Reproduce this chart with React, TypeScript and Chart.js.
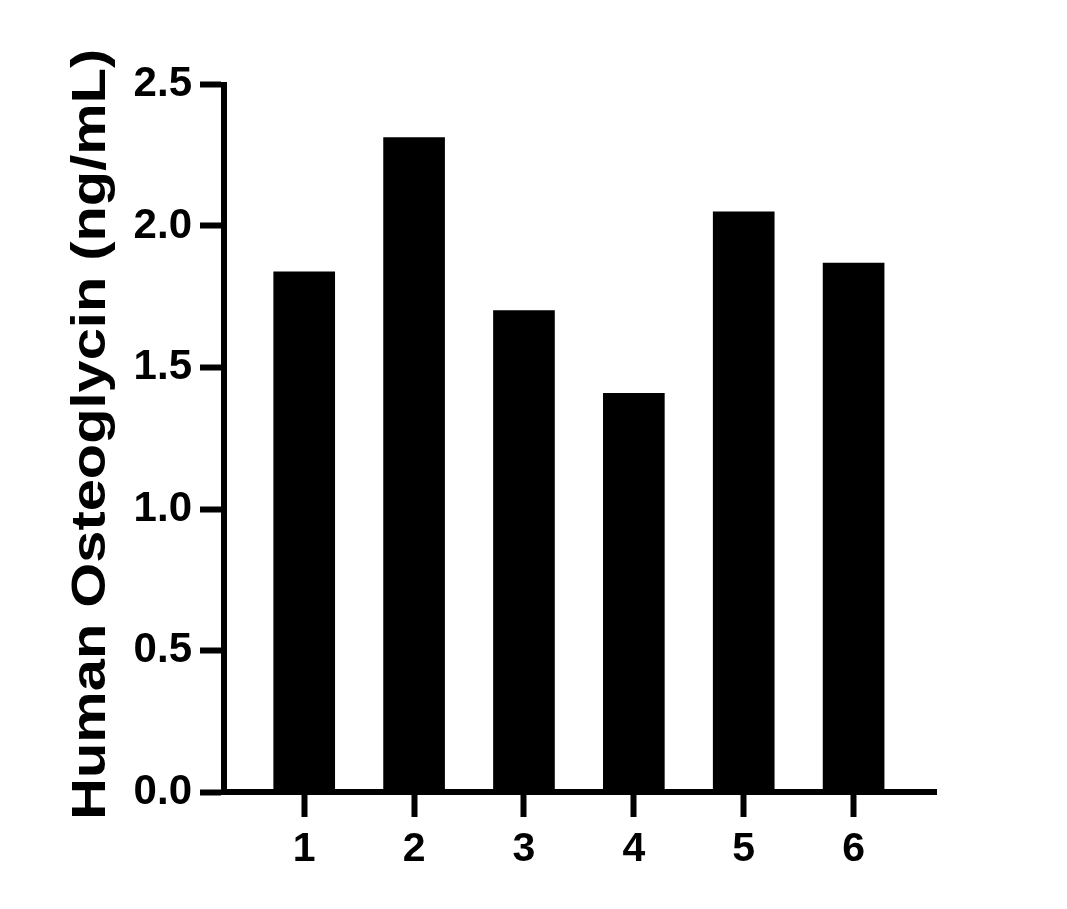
import React, { useEffect, useRef } from "react";
import { Chart, registerables } from "chart.js";

Chart.register(...registerables);

const categories = [1, 2, 3, 4, 5, 6];
const xTickLabels = ["1", "2", "3", "4", "5", "6"];
const values = [1.838, 2.312, 1.701, 1.409, 2.05, 1.869];
const yTicks = [0, 0.5, 1.0, 1.5, 2.0, 2.5];
const yTitle = "Human Osteoglycin (ng/mL)";

const FONT = "'Liberation Sans', Arial, sans-serif";

const yTitlePlugin = {
  id: "yTitleStretched",
  afterDraw(chart: any) {
    const { ctx, chartArea } = chart;
    const cy = (chartArea.top + chartArea.bottom) / 2 - 4;
    const cx = 91;
    ctx.save();
    ctx.translate(cx, cy);
    ctx.rotate(-Math.PI / 2);
    ctx.scale(1.18, 1);
    ctx.font = `bold 49px ${FONT}`;
    ctx.fillStyle = "#000";
    ctx.textAlign = "center";
    ctx.textBaseline = "middle";
    ctx.fillText(yTitle, 0, 0);
    ctx.restore();
  },
};

export default function App() {
  const ref = useRef<HTMLCanvasElement | null>(null);

  useEffect(() => {
    if (!ref.current) return;
    document.body.style.margin = "0";
    const chart = new Chart(ref.current, {
      type: "bar",
      data: {
        datasets: [
          {
            data: categories.map((c, i) => ({ x: c, y: values[i] })),
            backgroundColor: "#000000",
            borderWidth: 0,
            barThickness: 61,
          },
        ],
      },
      plugins: [yTitlePlugin],
      options: {
        animation: false,
        responsive: true,
        maintainAspectRatio: false,
        layout: { padding: { left: 0, top: 84.5, right: 131, bottom: 0 } },
        plugins: { legend: { display: false }, tooltip: { enabled: false } },
        scales: {
          x: {
            type: "linear",
            offset: false,
            min: 0.27,
            max: 6.75,
            afterBuildTicks: (scale: any) => {
              scale.ticks = categories.map((v) => ({ value: v }));
            },
            afterFit: (scale: any) => {
              scale.height = 117;
            },
            ticks: {
              color: "#000",
              font: { family: FONT, size: 41, weight: "bold" },
              padding: 8,
              maxRotation: 0,
              autoSkip: false,
              callback: (v: any) => {
                const i = categories.indexOf(Number(v));
                return i >= 0 ? xTickLabels[i] : "";
              },
            },
            grid: {
              offset: false,
              drawOnChartArea: false,
              drawTicks: true,
              tickLength: 25,
              tickWidth: 6,
              tickColor: "#000",
            },
            border: { display: true, color: "#000", width: 6 },
          },
          y: {
            min: 0,
            max: 2.5,
            afterBuildTicks: (scale: any) => {
              scale.ticks = yTicks.map((v) => ({ value: v }));
            },
            afterFit: (scale: any) => {
              scale.width = 224;
            },
            ticks: {
              color: "#000",
              font: { family: FONT, size: 42, weight: "bold" },
              padding: 8,
              callback: (v: any) => Number(v).toFixed(1),
            },
            grid: {
              drawOnChartArea: false,
              drawTicks: true,
              tickLength: 24,
              tickWidth: 6,
              tickColor: "#000",
            },
            border: { display: true, color: "#000", width: 6 },
          },
        },
      },
    });
    return () => chart.destroy();
  }, []);

  return (
    <div style={{ position: "fixed", left: 0, top: 0, width: 1067, height: 909, background: "#fff" }}>
      <canvas ref={ref} />
    </div>
  );
}
